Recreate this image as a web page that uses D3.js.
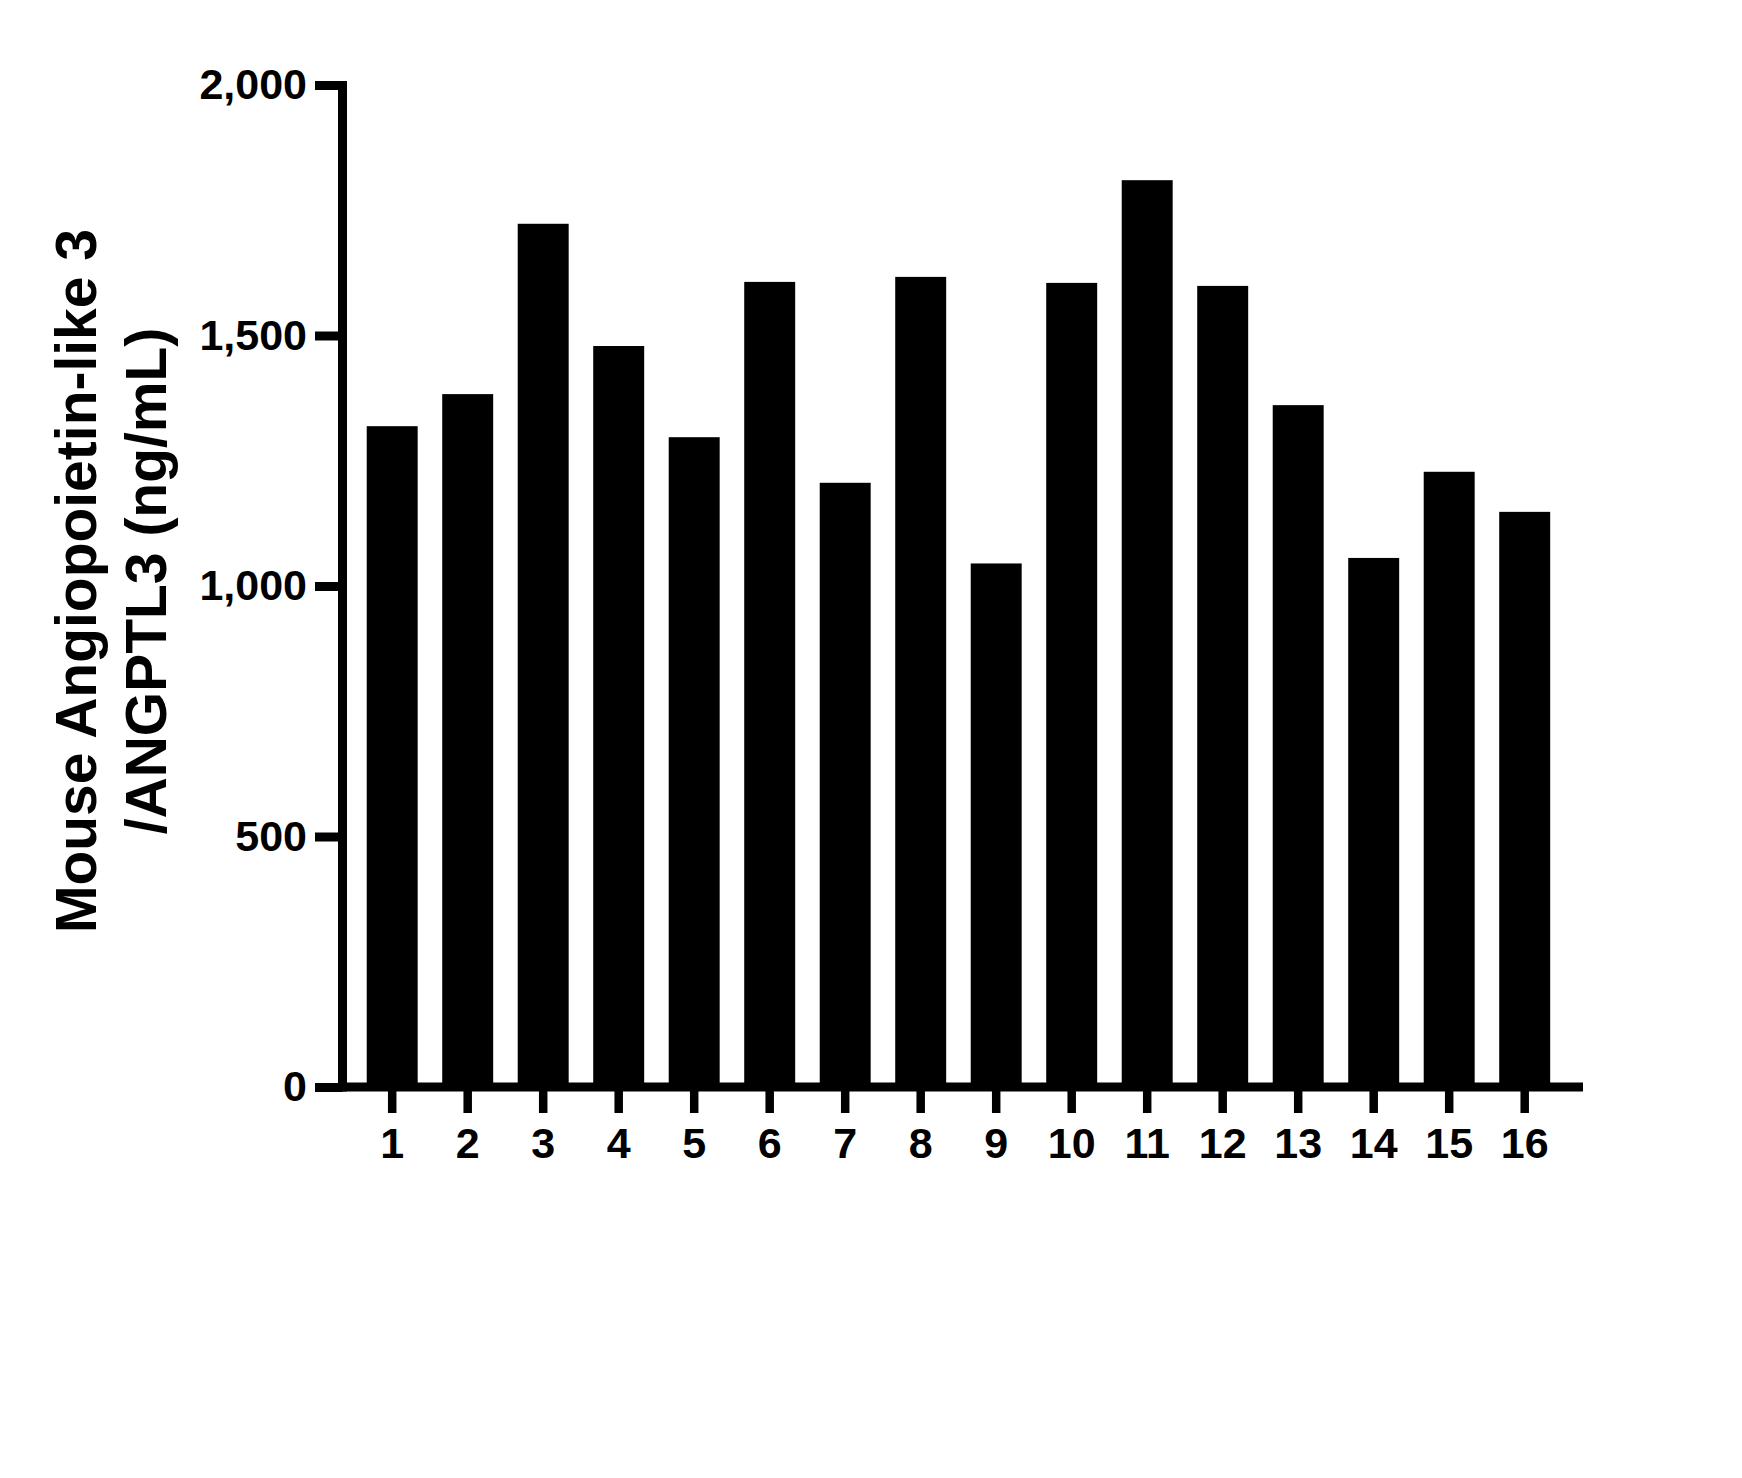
<!DOCTYPE html>
<html>
<head>
<meta charset="utf-8">
<script src="https://cdn.jsdelivr.net/npm/d3@7"></script>
<style>
  body { margin: 0; background: #fff; }
  svg text { font-family: "Liberation Sans", Arial, sans-serif; font-weight: bold; fill: #000; }
</style>
</head>
<body>
<div class="chart"></div>
<script>
// sample numbers on the x axis
const samples = ['1', '2', '3', '4', '5', '6', '7', '8', '9', '10', '11', '12', '13', '14', '15', '16'];
// ANGPTL3 concentration (ng/mL) per sample
const values = [1319, 1383, 1723, 1479, 1297, 1607, 1206, 1617, 1045, 1605, 1810, 1599, 1361, 1056, 1228, 1148];
const yTicks = [0, 500, 1000, 1500, 2000];
const titleLines = ['Mouse Angiopoietin-like 3', '/ANGPTL3 (ng/mL)'];

const width = 1742;
const height = 1478;
const axisX = 342.5;   // centre of y axis line
const baseY = 1087;    // centre of x axis line
const lineW = 9;

const svg = d3.select('.chart')
  .append('svg')
  .attr('width', width)
  .attr('height', height);

svg.append('rect').attr('width', width).attr('height', height).attr('fill', '#fff');

const xScale = d3.scaleBand()
  .domain(samples)
  .range([354.45, 1562.45])
  .paddingInner(0.325)
  .paddingOuter(0.1625);

const yScale = d3.scaleLinear()
  .domain([0, 2000])
  .range([baseY, 85]);

// bars
svg.selectAll('rect.bar')
  .data(values)
  .enter()
  .append('rect')
  .attr('class', 'bar')
  .attr('x', (d, i) => xScale(samples[i]))
  .attr('y', d => yScale(d))
  .attr('width', xScale.bandwidth())
  .attr('height', d => baseY - yScale(d))
  .attr('fill', '#000');

// y axis
const yAxis = svg.append('g')
  .attr('transform', `translate(${axisX},0)`)
  .call(d3.axisLeft(yScale)
    .tickValues(yTicks)
    .tickFormat(d3.format(','))
    .tickSize(27.5)
    .tickSizeOuter(0)
    .tickPadding(8));
yAxis.select('.domain').remove();
yAxis.selectAll('.tick line').attr('stroke', '#000').attr('stroke-width', lineW);
yAxis.selectAll('.tick text').style('font-size', '43px');

// x axis
const xAxis = svg.append('g')
  .attr('transform', `translate(0,${baseY})`)
  .call(d3.axisBottom(xScale)
    .tickSize(26)
    .tickSizeOuter(0)
    .tickPadding(14.5));
xAxis.select('.domain').remove();
xAxis.selectAll('.tick line').attr('stroke', '#000').attr('stroke-width', 8.5);
xAxis.selectAll('.tick text').style('font-size', '43px');

// axis lines
svg.append('line')
  .attr('x1', axisX).attr('x2', axisX)
  .attr('y1', yScale(2000) - 4).attr('y2', baseY + 4.5)
  .attr('stroke', '#000').attr('stroke-width', lineW);

svg.append('line')
  .attr('x1', axisX - 4.5).attr('x2', 1583)
  .attr('y1', baseY).attr('y2', baseY)
  .attr('stroke', '#000').attr('stroke-width', lineW);

// y axis title, two lines
const title = svg.append('text')
  .attr('transform', 'translate(96,581) rotate(-90)')
  .attr('text-anchor', 'middle')
  .style('font-size', '57px');

title.selectAll('tspan')
  .data(titleLines)
  .enter()
  .append('tspan')
  .attr('x', 0)
  .attr('y', (d, i) => i * 70)
  .text(d => d);
</script>
</body>
</html>
